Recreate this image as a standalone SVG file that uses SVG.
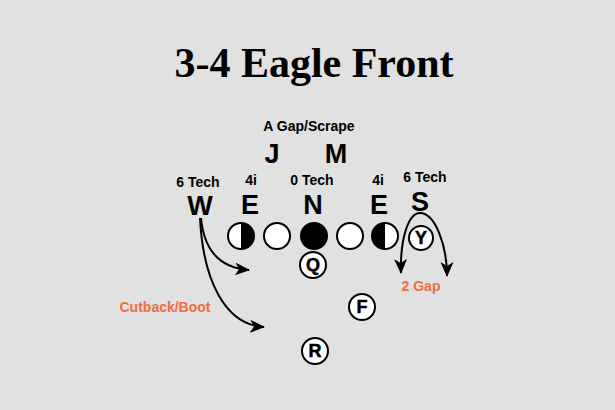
<svg xmlns="http://www.w3.org/2000/svg" width="615" height="410" viewBox="0 0 615 410">
<style>
.bg{fill:#e1e1e1}
.t{font-family:"Liberation Sans",Arial,sans-serif;font-weight:bold;fill:#000;text-anchor:middle}
.big{font-size:27px}
.sm{font-size:14px}
.or{font-family:"Liberation Sans",Arial,sans-serif;font-weight:bold;font-size:14px;fill:#ee6e3c;text-anchor:middle}
.title{font-family:"Liberation Serif","Times New Roman",serif;font-weight:bold;font-size:42px;text-anchor:middle;fill:#000}
.pc{fill:#fff;stroke:#000;stroke-width:2}
.pl{font-family:"Liberation Sans",Arial,sans-serif;font-weight:bold;font-size:18px;text-anchor:middle;fill:#000;stroke:#000;stroke-width:0.5}
.arr{fill:none;stroke:#000;stroke-width:2;marker-end:url(#ah)}
</style>
<defs>
<marker id="ah" markerUnits="userSpaceOnUse" markerWidth="18" markerHeight="14" refX="14" refY="6.5" orient="auto">
<path d="M0,0 L15,6.5 L0,13 L4,6.5 Z" fill="#000"/>
</marker>
</defs>
<rect class="bg" x="0" y="0" width="615" height="410"/>
<text class="title" x="314" y="77">3-4 Eagle Front</text>
<text class="t" x="309" y="131" style="font-size:14px">A Gap/Scrape</text>
<g id="J"><text class="t big" x="272" y="163">J</text></g>
<g id="M"><text class="t big" x="336" y="163">M</text></g>
<text class="t sm" x="198" y="187">6 Tech</text>
<text class="t sm" x="251" y="185">4i</text>
<text class="t sm" x="312" y="185">0 Tech</text>
<text class="t sm" x="378" y="185">4i</text>
<text class="t sm" x="425" y="182">6 Tech</text>
<g id="W"><text class="t big" x="200" y="215">W</text></g>
<g id="E1"><text class="t big" x="250" y="214">E</text></g>
<g id="N"><text class="t big" x="313" y="214">N</text></g>
<g id="E2"><text class="t big" x="379" y="214">E</text></g>
<g id="S"><text class="t big" x="420" y="211">S</text></g>
<g id="OL1"><circle class="pc" cx="241" cy="236" r="13"/><path d="M241,223 A13,13 0 0 1 241,249 Z" fill="#000"/></g>
<g id="OL2"><circle class="pc" cx="277" cy="236" r="13"/></g>
<g id="OL3"><circle cx="314" cy="236" r="13" fill="#000" stroke="#000" stroke-width="2"/></g>
<g id="OL4"><circle class="pc" cx="350" cy="236" r="13"/></g>
<g id="OL5"><circle class="pc" cx="385" cy="236" r="13"/><path d="M385,223 A13,13 0 0 0 385,249 Z" fill="#000"/></g>
<g id="Y"><circle class="pc" cx="421" cy="238" r="12"/><text class="pl" x="421" y="244">Y</text></g>
<g id="Q"><circle class="pc" cx="313" cy="265" r="13"/><text class="pl" x="313" y="271">Q</text></g>
<g id="F"><circle class="pc" cx="362" cy="307" r="13"/><text class="pl" x="362" y="313">F</text></g>
<g id="R"><circle class="pc" cx="315" cy="351" r="13"/><text class="pl" x="315" y="357">R</text></g>
<text class="or" x="165" y="312">Cutback/Boot</text>
<text class="or" x="421" y="291">2 Gap</text>
<g id="connectors">
<path class="arr" d="M201,218 C204,250 220,268 249,270"/>
<path class="arr" d="M200,218 C203,280 225,325 264,327"/>
<path class="arr" d="M420,213 C408,213 400,240 401,273"/>
<path class="arr" d="M420,213 C435,213 447,245 447,276"/>
</g>
</svg>
